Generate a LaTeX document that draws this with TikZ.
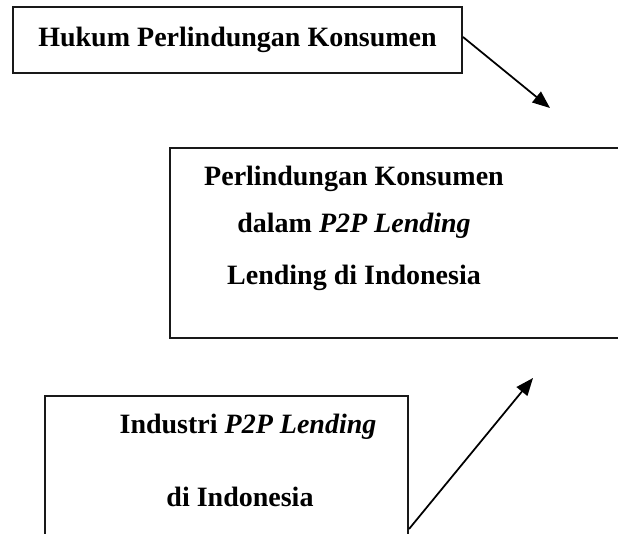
\documentclass[tikz,border=0pt]{standalone}
\usepackage{fontspec}
\setmainfont{Liberation Serif}
\usetikzlibrary{arrows.meta,calc}

\begin{document}
\begin{tikzpicture}[x=0.4pt, y=-0.4pt,
  box/.style={draw=black!90, line width=0.8pt, inner sep=0pt,
              font=\fontsize{11.2}{13}\selectfont\bfseries},
  txt/.style={inner sep=0pt, anchor=base,
              font=\fontsize{11.2}{13}\selectfont\bfseries},
  arr/.style={-{Triangle[length=7pt, width=5.5pt]}, line width=0.7pt, draw=black}]

\useasboundingbox (0,0) rectangle (618,533);
\clip (0,0) rectangle (618,533);

\node[box, minimum width=179.6pt, minimum height=26.4pt] (hukum) at (237.5,40)
  {Hukum Perlindungan Konsumen};

% middle box runs past the right edge, text sits left of centre
\node[box, minimum width=182pt, minimum height=76pt] (perlin) at (397.5,243) {};
\node[txt] (perlinA) at (354,185) {Perlindungan Konsumen};
\node[txt] (perlinB) at (354,232) {dalam \textit{P2P Lending}};
\node[txt] (perlinC) at (354,284) {Lending di Indonesia};

% bottom box runs past the lower edge
\node[box, minimum width=145.2pt, minimum height=57.6pt] (industri) at (226.5,468) {};
\node[txt] (industriA) at (248,433) {Industri \textit{P2P Lending}};
\node[txt] (industriB) at (240,506) {di Indonesia};

\coordinate (tipA) at (550,108);
\coordinate (tipB) at (533,378);

\draw[arr] ($(hukum.east)+(0,-3)$) -- (tipA);
\draw[arr] ($(industri.south east)+(0,-12)$) -- (tipB);
\end{tikzpicture}
\end{document}
